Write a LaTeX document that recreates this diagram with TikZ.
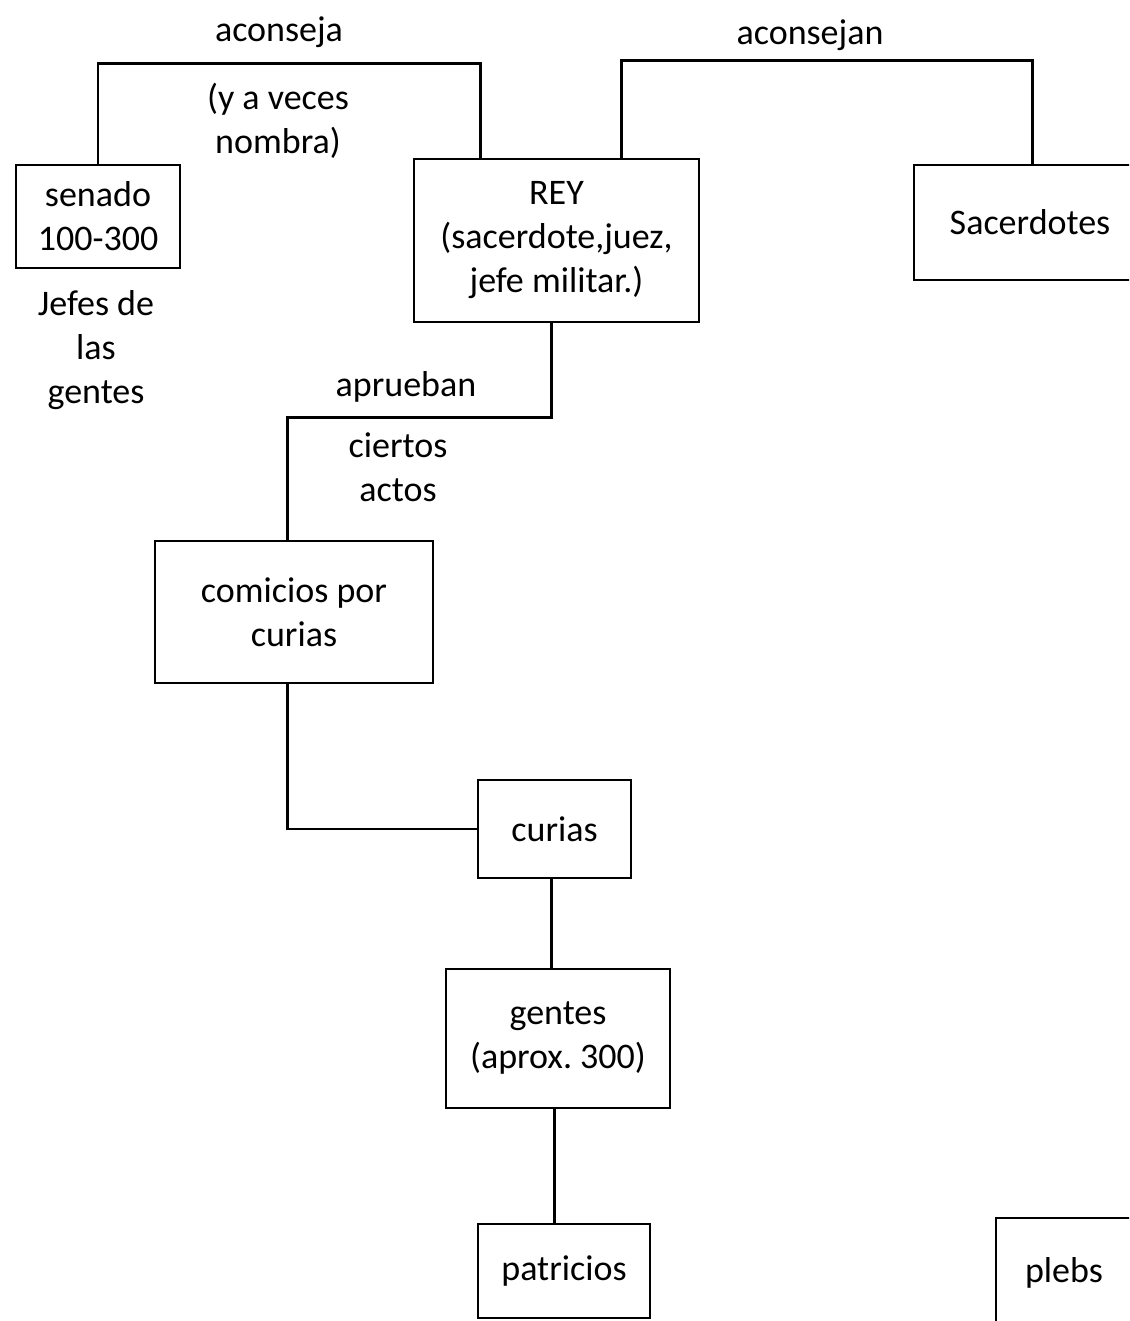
\documentclass[tikz,border=0pt]{standalone}
\usepackage{fontspec}
\setmainfont{Carlito}
\frenchspacing
\usetikzlibrary{calc}
\begin{document}
\begin{tikzpicture}[x=0.5pt,y=-0.5pt]
		% formatos
		\tikzstyle{caja} = [draw, line width=1.4pt, align=center, inner sep=0pt, font=\fontsize{18}{22}\selectfont]
		\tikzstyle{texto} = [align=center, inner sep=0pt, font=\fontsize{18}{22}\selectfont]
		\tikzstyle{linea} = [line width=1.2pt]
		\clip (0,0) rectangle (1129,1321);
		% nodos
		\node [caja, minimum width=82pt, minimum height=51.5pt] (senado) at (98,216.5)
{senado\\100-300};
		\node [caja, minimum width=142.5pt, minimum height=81.5pt] (rey) at (556.5,240.5)
{REY\\(sacerdote,juez,\\jefe militar.)};
		\node [caja, minimum width=116pt, minimum height=57.5pt] (sacerdotes) at (1030,222.5)	{Sacerdotes};
		\node [caja, minimum width=139pt, minimum height=71pt] (comicios) at (294,612)
{comicios por\\curias};
		\node [caja, minimum width=76.5pt, minimum height=49pt] (curias) at (554.5,829)	{curias};
		\node [caja, minimum width=112pt, minimum height=69.5pt] (gentes) at (558,1038.5)
{gentes\\(aprox. 300)};
		\node [caja, minimum width=86pt, minimum height=47pt] (patricios) at (564,1271)	{patricios};
		\node [caja, minimum width=68pt, minimum height=55pt] (plebs) at (1064,1273)	{plebs};
		% textos
		\node [texto] (aconseja) at (279,32)	{aconseja};
		\node [texto] (nombra) at (278,121)	{(y a veces\\nombra)};
		\node [texto] (jefes) at (96,350)	{Jefes de\\las\\gentes};
		\node [texto] (aconsejan) at (810,35)	{aconsejan};
		\node [texto] (aprueban) at (406,387)	{aprueban};
		\node [texto] (actos) at (398,467)	{ciertos\\actos};
		% relaciones
		\coordinate (reyizq) at ($(rey.north west)+(68,0)$);
		\coordinate (reyder) at ($(rey.north west)+(209,0)$);
		\coordinate (reyabajo) at ($(rey.south west)+(139,0)$);
		\draw [linea] (senado.north) -- ++(0,-100) -| (reyizq);
		\draw [linea] (reyder) -- ++(0,-97) -| ($(sacerdotes.north west)+(120,0)$);
		\draw [linea] (reyabajo) -- ++(0,94) -| ($(comicios.north west)+(134,0)$);
		\draw [linea] ($(comicios.south west)+(134,0)$) |- (curias.west);
		\draw [linea] ($(curias.south west)+(75,0)$) -- ($(gentes.north west)+(107,0)$);
		\draw [linea] ($(gentes.south west)+(110,0)$) -- ($(patricios.north west)+(78,0)$);
	\end{tikzpicture}
\end{document}
